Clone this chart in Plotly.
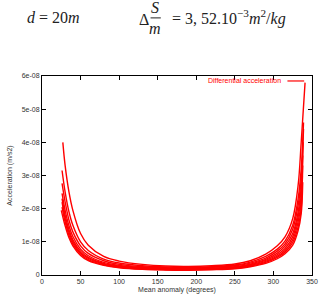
import numpy as np
import plotly.graph_objects as go

# Mean anomaly (degrees) and differential acceleration (units of 1e-9 m/s^2) for each orbit curve
m_mid = [30, 35, 40, 50, 60, 80, 100, 130, 160, 190, 220, 250, 270, 290, 305, 315, 325, 332, 336]

curve_M = [
    [27] + m_mid + [341],
    [26] + m_mid + [339],
    [26] + m_mid + [339],
    [26] + m_mid + [338.5],
    [26] + m_mid + [338],
    [26] + m_mid + [338],
    [26] + m_mid + [337.5],
    [25] + m_mid + [338],
]
curve_A = [
    [40, 33, 25, 19.5, 12.5, 9.0, 5.6, 4.2, 3.2, 2.7, 2.6, 2.8, 3.3, 4.3, 6.3, 8.8, 11.5, 17, 27, 40, 58],
    [31.5, 25, 19, 15, 10, 7.4, 4.8, 3.6, 2.8, 2.4, 2.3, 2.5, 3.0, 3.9, 5.6, 7.8, 10.2, 15, 23, 32, 46],
    [27.6, 22, 16.5, 13, 8.8, 6.5, 4.3, 3.2, 2.5, 2.2, 2.1, 2.3, 2.8, 3.6, 5.1, 7.2, 9.4, 13.8, 21, 29, 44],
    [24.6, 19.5, 14.8, 11.6, 7.8, 5.8, 3.8, 2.9, 2.3, 2.0, 1.9, 2.1, 2.5, 3.3, 4.7, 6.6, 8.7, 12.5, 19, 26.5, 40],
    [23, 18, 13.6, 10.6, 7.2, 5.3, 3.5, 2.7, 2.1, 1.85, 1.8, 1.95, 2.35, 3.1, 4.4, 6.1, 8.0, 11.5, 17.5, 24, 36],
    [22, 17, 12.8, 10.0, 6.7, 5.0, 3.3, 2.5, 1.95, 1.7, 1.65, 1.8, 2.2, 2.9, 4.1, 5.7, 7.4, 10.6, 16, 22, 33],
    [20.5, 16, 12, 9.4, 6.3, 4.6, 3.1, 2.35, 1.8, 1.6, 1.55, 1.7, 2.05, 2.7, 3.8, 5.3, 6.9, 9.8, 14.5, 20, 30],
    [19.5, 14.8, 11.2, 8.8, 5.9, 4.3, 2.9, 2.2, 1.7, 1.5, 1.45, 1.6, 1.9, 2.5, 3.5, 4.9, 6.4, 9.0, 13.4, 18.5, 28],
]

x_ticks = [0, 50, 100, 150, 200, 250, 300, 350]
y_ticks = [0, 1e-08, 2e-08, 3e-08, 4e-08, 5e-08, 6e-08]
y_ticktext = ["0", "1e-08", "2e-08", "3e-08", "4e-08", "5e-08", "6e-08"]

fig = go.Figure()
for M, A in zip(curve_M, curve_A):
    fig.add_trace(go.Scatter(
        x=M, y=np.array(A) * 1e-9, mode="lines",
        line=dict(color="#ff0000", width=1.4, shape="spline", smoothing=1.0),
        showlegend=False, hoverinfo="skip",
    ))

sans = "Liberation Sans, Arial, sans-serif"
axis_common = dict(
    showline=True, linecolor="#000000", linewidth=1, mirror="allticks",
    ticks="inside", ticklen=4, tickcolor="#000000", showgrid=False, zeroline=False,
    tickfont=dict(family=sans, size=7, color="#333333"),
)

fig.update_layout(
    width=325, height=299,
    margin=dict(l=42, r=7, t=76, b=21),
    paper_bgcolor="white", plot_bgcolor="white",
    xaxis=dict(range=[0, 350], tickvals=x_ticks, ticktext=[str(v) for v in x_ticks],
               title=dict(text="Mean anomaly (degrees)", standoff=2,
                          font=dict(family=sans, size=7, color="#333333")),
               **axis_common),
    yaxis=dict(range=[0, 6e-08], tickvals=y_ticks, ticktext=y_ticktext,
               title=dict(text="Acceleration (m/s2)", standoff=8,
                          font=dict(family=sans, size=7, color="#333333")),
               **axis_common),
)

serif = "Liberation Serif, DejaVu Serif, serif"
mfont = dict(family=serif, size=16, color="#222222")
ann = [
    dict(text="<i>d</i> = 20<i>m</i>", x=-0.062, y=1.292, xanchor="left", yanchor="middle", font=mfont),
    dict(text="Δ", x=0.352, y=1.285, xanchor="left", yanchor="middle", font=mfont),
    dict(text="<i>S</i>", x=0.42, y=1.345, xanchor="center", yanchor="middle", font=mfont),
    dict(text="<i>m</i>", x=0.42, y=1.24, xanchor="center", yanchor="middle", font=mfont),
    dict(text="= 3, 52.10<sup>−3</sup><i>m</i><sup>2</sup>/<i>kg</i>", x=0.475, y=1.292,
         xanchor="left", yanchor="middle", font=mfont),
    dict(text="Differential acceleration", x=0.891, y=0.975, xanchor="right", yanchor="middle",
         font=dict(family=sans, size=7, color="#ff0000")),
]
for a in ann:
    a.update(xref="paper", yref="paper", showarrow=False)
fig.update_layout(annotations=ann)

fig.add_shape(type="line", xref="paper", yref="paper", x0=0.402, x1=0.44, y0=1.292, y1=1.292,
              line=dict(color="#222222", width=1))
fig.add_shape(type="line", xref="paper", yref="paper", x0=0.909, x1=0.971, y0=0.975, y1=0.975,
              line=dict(color="#ff0000", width=1.2))

fig.write_html("out.html")
